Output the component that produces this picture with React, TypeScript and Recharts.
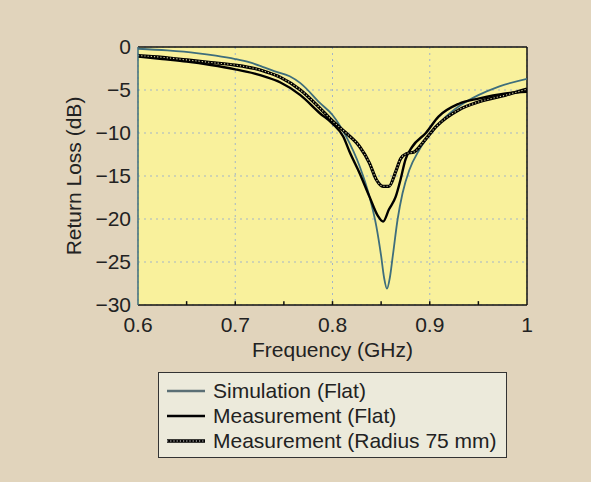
import React from 'react';
import {
  LineChart,
  Line,
  XAxis,
  YAxis,
  CartesianGrid,
  ReferenceLine,
} from 'recharts';

// Frequency (GHz) / return loss (dB)
const simFreq = [0.6, 0.63, 0.66, 0.68, 0.7, 0.715, 0.728, 0.74, 0.756, 0.767, 0.787, 0.8, 0.814, 0.828, 0.838, 0.845, 0.85, 0.853, 0.856, 0.859, 0.862, 0.867, 0.872, 0.879, 0.889, 0.9, 0.913, 0.93, 0.95, 0.971, 1.0];
const simLoss = [-0.2, -0.4, -0.7, -1.0, -1.4, -1.8, -2.3, -2.8, -3.4, -4.2, -6.5, -7.9, -10.4, -13.9, -17.4, -20.8, -24.3, -26.8, -28.1, -26.8, -24.3, -20.0, -17.0, -14.3, -12.0, -10.2, -8.5, -6.9, -5.6, -4.6, -3.7];

const flatFreq = [0.6, 0.625, 0.65, 0.675, 0.7, 0.72, 0.732, 0.746, 0.767, 0.787, 0.8, 0.811, 0.818, 0.828, 0.838, 0.847, 0.852, 0.858, 0.865, 0.87, 0.875, 0.882, 0.896, 0.909, 0.93, 0.95, 0.978, 1.0];
const flatLoss = [-1.1, -1.4, -1.7, -2.1, -2.6, -3.1, -3.5, -4.1, -5.6, -7.7, -8.9, -10.4, -12.3, -14.7, -17.4, -19.7, -20.3, -18.9, -17.4, -15.4, -13.1, -11.6, -10.0, -8.1, -6.6, -6.0, -5.4, -5.2];

const radFreq = [0.6, 0.625, 0.65, 0.675, 0.7, 0.72, 0.732, 0.746, 0.767, 0.787, 0.8, 0.814, 0.828, 0.838, 0.845, 0.852, 0.858, 0.865, 0.87, 0.876, 0.884, 0.893, 0.907, 0.93, 0.95, 0.978, 1.0];
const radLoss = [-1.0, -1.2, -1.5, -1.8, -2.1, -2.5, -2.9, -3.5, -5.0, -7.1, -8.6, -10.0, -11.6, -13.5, -15.4, -16.2, -16.2, -14.5, -13.0, -12.4, -12.2, -11.1, -9.2, -7.3, -6.4, -5.6, -4.9];

const xTicks = [0.6, 0.7, 0.8, 0.9, 1];
const yTicks = [0, -5, -10, -15, -20, -25, -30];
const minorTicks = [0.65, 0.7, 0.75, 0.8, 0.85, 0.9, 0.95];

const legendNames = ['Simulation (Flat)', 'Measurement (Flat)', 'Measurement (Radius 75 mm)'];

const toPoints = (f: number[], v: number[]) => f.map((x, i) => ({ freq: x, loss: v[i] }));

const simData = toPoints(simFreq, simLoss);
const flatData = toPoints(flatFreq, flatLoss);
const radData = toPoints(radFreq, radLoss);

const FONT = '"Liberation Sans", Arial, sans-serif';
const BG = '#e1d4bc';
const PLOT = '#f9f19c';
const TEAL = '#3e6e7c';

const fmtX = (v: number) => (v === 1 ? '1' : v.toFixed(1));
const fmtY = (v: number) => (v < 0 ? '\u2212' + Math.abs(v) : String(v));

const LegendBox = () => (
  <div
    style={{
      position: 'absolute',
      left: 158,
      top: 372,
      width: 347,
      height: 84,
      border: '1.5px solid #333',
      background: '#eceadb',
      fontFamily: FONT,
      fontSize: 21,
      color: '#222',
      boxSizing: 'content-box',
    }}
  >
    {legendNames.map((name, i) => (
      <div key={name} style={{ position: 'absolute', left: 8, top: 5 + i * 25, height: 25, display: 'flex', alignItems: 'center', whiteSpace: 'nowrap' }}>
        <svg width={40} height={10} style={{ marginRight: 6 }}>
          {i === 0 && <line x1={0} y1={5} x2={38} y2={5} stroke="#5b6f75" strokeWidth={2.5} />}
          {i === 1 && <line x1={0} y1={5} x2={38} y2={5} stroke="#000" strokeWidth={2.5} />}
          {i === 2 && (
            <g>
              <line x1={0} y1={5} x2={38} y2={5} stroke="#000" strokeWidth={3.5} />
              <line x1={0} y1={5} x2={38} y2={5} stroke="#ddd" strokeWidth={1.2} strokeDasharray="1.2 2" />
            </g>
          )}
        </svg>
        <span>{name}</span>
      </div>
    ))}
  </div>
);

export default function App() {
  return (
    <div style={{ position: 'absolute', left: 0, top: 0, width: 591, height: 482, background: BG }}>
      <LineChart width={591} height={370} margin={{ top: 47, right: 64, bottom: 0, left: 0 }}>
        <CartesianGrid fill={PLOT} stroke="#a3b5c8" strokeDasharray="2 4" />
        <XAxis
          dataKey="freq"
          type="number"
          domain={[0.6, 1]}
          ticks={xTicks}
          interval={0}
          allowDataOverflow
          tickFormatter={fmtX}
          height={65}
          tickSize={0}
          tickMargin={12}
          axisLine={{ stroke: '#111', strokeWidth: 1.5 }}
          tick={{ fill: '#222', fontSize: 21, fontFamily: FONT }}
          label={{ value: 'Frequency (GHz)', position: 'insideBottom', offset: 13, fill: '#222', fontSize: 21, fontFamily: FONT }}
        />
        <YAxis
          dataKey="loss"
          type="number"
          domain={[-30, 0]}
          ticks={yTicks}
          interval={0}
          allowDataOverflow
          tickFormatter={fmtY}
          width={138}
          tickSize={0}
          tickMargin={7}
          axisLine={{ stroke: TEAL, strokeWidth: 1.5 }}
          tick={{ fill: '#222', fontSize: 21, fontFamily: FONT }}
          label={{
            value: 'Return Loss (dB)',
            angle: -90,
            position: 'insideLeft',
            offset: 74,
            fill: '#222',
            fontSize: 21,
            fontFamily: FONT,
            style: { textAnchor: 'middle' },
          }}
        />
        <ReferenceLine y={0} stroke="#111" strokeWidth={1.5} ifOverflow="visible" />
        <ReferenceLine x={1} stroke="#111" strokeWidth={1.5} ifOverflow="visible" />
        {minorTicks.map((t) => (
          <ReferenceLine
            key={t}
            segment={[{ x: t, y: -30 }, { x: t, y: -29.55 }]}
            stroke="#111"
            strokeWidth={1.5}
          />
        ))}
        <Line data={simData} dataKey="loss" type="monotone" stroke={TEAL} strokeWidth={1.8} dot={false} isAnimationActive={false} />
        <Line data={flatData} dataKey="loss" type="monotone" stroke="#000" strokeWidth={2.4} dot={false} isAnimationActive={false} />
        <Line data={radData} dataKey="loss" type="monotone" stroke="#000" strokeWidth={3.2} dot={false} isAnimationActive={false} />
        <Line data={radData} dataKey="loss" type="monotone" stroke="#d8d2a0" strokeWidth={1.1} strokeDasharray="1.2 2" dot={false} isAnimationActive={false} />
      </LineChart>
      <LegendBox />
    </div>
  );
}
